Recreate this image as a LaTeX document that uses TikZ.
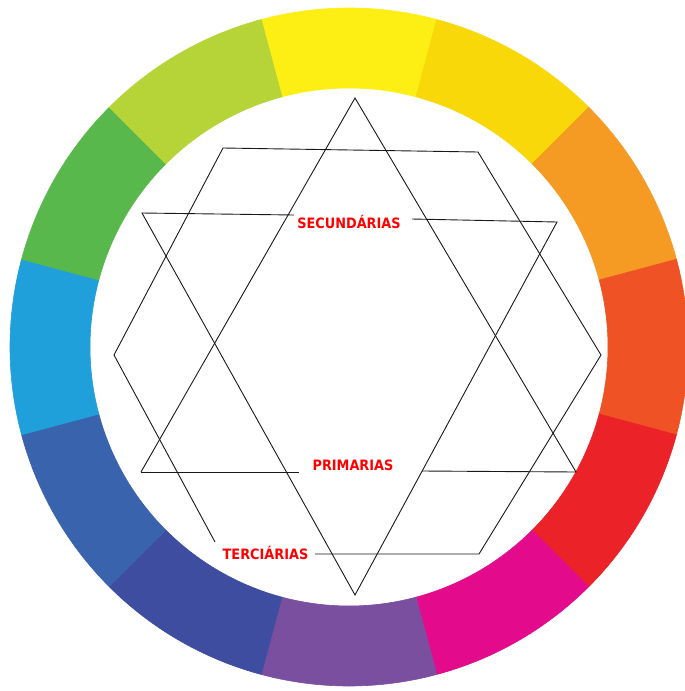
\documentclass[tikz,border=0pt]{standalone}
\usepackage{fontspec}
\newfontfamily\labfont{DejaVu Sans Condensed}[BoldFont={DejaVu Sans Condensed Bold}]
\usetikzlibrary{calc}
\definecolor{cYel}{RGB}{253,238,20}
\definecolor{cGold}{RGB}{248,216,8}
\definecolor{cOrg}{RGB}{245,154,35}
\definecolor{cROrg}{RGB}{239,83,37}
\definecolor{cRed}{RGB}{236,34,41}
\definecolor{cMag}{RGB}{227,11,140}
\definecolor{cPur}{RGB}{122,79,159}
\definecolor{cInd}{RGB}{63,77,160}
\definecolor{cBlu}{RGB}{58,99,173}
\definecolor{cCya}{RGB}{32,160,218}
\definecolor{cGrn}{RGB}{88,184,75}
\definecolor{cYGr}{RGB}{182,212,55}
\tikzset{
  wline/.style={draw=black!90, line width=0.9pt, line join=miter},
  lab/.style={text=red, font=\labfont\bfseries\fontsize{14.3}{17}\selectfont, inner sep=1pt}
}
\begin{document}
\begin{tikzpicture}[x=1pt,y=1pt]
\useasboundingbox (0,0) rectangle (685,-691);
\fill[white] (0,0) rectangle (685,-691);
\coordinate (C) at (349,-347);
% colour wheel
\foreach \a/\c in {90/cYel,60/cGold,30/cOrg,0/cROrg,-30/cRed,-60/cMag,-90/cPur,-120/cInd,-150/cBlu,180/cCya,150/cGrn,120/cYGr}{
  \filldraw[fill=\c, draw=\c, line width=0.6pt]
    ($(C)+(\a-15:339pt)$) arc[start angle=\a-15, end angle=\a+15, radius=339pt]
    -- ($(C)+(\a+15:259pt)$) arc[start angle=\a+15, end angle=\a-15, radius=259pt] -- cycle;
}
% labels
\node[lab] (sec) at (349,-222) {SECUNDÁRIAS};
\node[lab] (pri) at (353,-465) {PRIMARIAS};
\node[lab] (ter) at (265.5,-553) {TERCIÁRIAS};
% upward triangle
\coordinate (A1) at (355,-98);
\coordinate (B1) at (141,-472);
\coordinate (C1) at (576,-472);
\coordinate (pl) at (299,-472);
\coordinate (pr) at (422,-471);
% downward triangle
\coordinate (D1) at (142,-213);
\coordinate (E1) at (557,-222);
\coordinate (F1) at (355,-595);
\coordinate (sl) at (294,-215);
\coordinate (sr) at (412,-219);
% hexagon
\coordinate (H1) at (223,-148);
\coordinate (H2) at (478,-152);
\coordinate (H3) at (601,-355);
\coordinate (H4) at (479,-554);
\coordinate (H6) at (114,-355);
\coordinate (tl) at (215,-542);
\coordinate (tr) at (315,-554);
\draw[wline] (B1) -- (A1) -- (C1) -- (pr);
\draw[wline] (B1) -- (pl);
\draw[wline] (sl) -- (D1) -- (F1) -- (E1) -- (sr);
\draw[wline] (tl) -- (H6) -- (H1) -- (H2) -- (H3) -- (H4) -- (tr);
\end{tikzpicture}
\end{document}
